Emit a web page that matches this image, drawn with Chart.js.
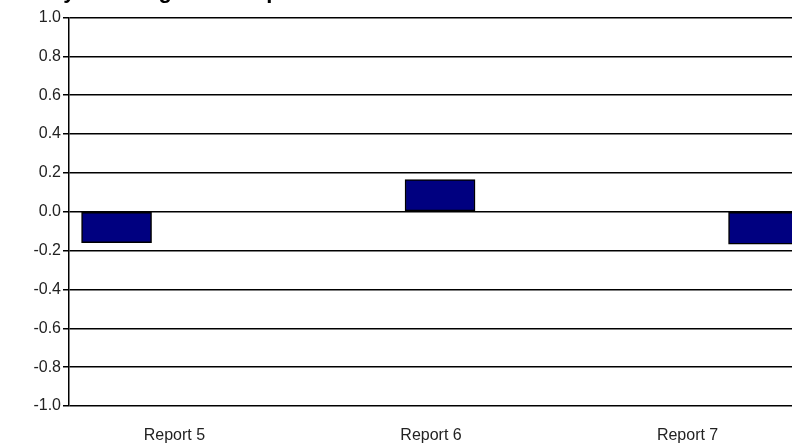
<!DOCTYPE html>
<html>
<head>
<meta charset="utf-8">
<script src="https://cdn.jsdelivr.net/npm/chart.js@4/dist/chart.umd.min.js"></script>
<style>
    body { margin: 0; background: #fff; }
    #wrap { position: relative; width: 792px; height: 445px; overflow: hidden; }
    #chart { position: absolute; left: 0; top: -21px; }
</style>
</head>
<body>
<div id="wrap"><canvas id="chart" width="792" height="466"></canvas></div>
<script>
const chartTitle = 'Weekly Tracking Error Report';
const categories = ['Report 5', 'Report 6', 'Report 7'];
const changeValues = [-0.16, 0.165, -0.167];
const yTickValues = [-1.0, -0.8, -0.6, -0.4, -0.2, 0.0, 0.2, 0.4, 0.6, 0.8, 1.0];

const font = "'Liberation Sans', Arial, sans-serif";

function buildChart() {
    let ctx = document.getElementById('chart');
    let points = [];
    categories.forEach((name, i) => {
        points.push({ x: i, y: changeValues[i] });
    });

    let config = {
        type: 'bar',
        data: {
            datasets: [
                {
                    data: points,
                    xAxisID: 'x',
                    yAxisID: 'y',
                    backgroundColor: '#000080',
                    borderColor: '#000',
                    borderWidth: 1.5,
                    borderSkipped: false,
                    barThickness: 70,
                },
            ],
        },
        options: {
            responsive: false,
            animation: false,
            layout: { padding: 0 },
            plugins: {
                legend: { display: false },
                tooltip: { enabled: false },
                title: {
                    display: true,
                    text: chartTitle,
                    align: 'start',
                    color: '#000',
                    font: { family: font, size: 22, weight: 'bold' },
                    padding: { top: 0, bottom: 12 },
                },
            },
            scales: {
                // bars are placed on this one, the label row below is its own axis
                x: {
                    type: 'linear',
                    display: false,
                    offset: false,
                    grid: { offset: false },
                    min: -0.147,
                    max: 2.088,
                },
                x2: {
                    type: 'linear',
                    position: 'bottom',
                    offset: false,
                    min: -0.411,
                    max: 2.407,
                    afterBuildTicks: (scale) => {
                        scale.ticks = categories.map((c, i) => ({ value: i }));
                    },
                    afterFit: (scale) => {
                        scale.height = 39;
                    },
                    grid: { display: false, drawTicks: false, offset: false },
                    border: { display: false },
                    ticks: {
                        padding: 20,
                        maxRotation: 0,
                        autoSkip: false,
                        color: '#222',
                        font: { family: font, size: 16 },
                        callback: (value) => categories[value],
                    },
                },
                y: {
                    min: -1,
                    max: 1,
                    afterBuildTicks: (scale) => {
                        scale.ticks = yTickValues.map((v) => ({ value: v }));
                    },
                    afterFit: (scale) => {
                        scale.width = 69;
                    },
                    grid: {
                        color: '#000',
                        lineWidth: 1.5,
                        tickLength: 6,
                        tickColor: '#000',
                    },
                    border: { color: '#000', width: 1.5 },
                    ticks: {
                        padding: 2,
                        color: '#222',
                        font: { family: font, size: 16 },
                        callback: (value) => value.toFixed(1),
                    },
                },
            },
        },
    };

    new Chart(ctx, config);
}

buildChart();
</script>
</body>
</html>
